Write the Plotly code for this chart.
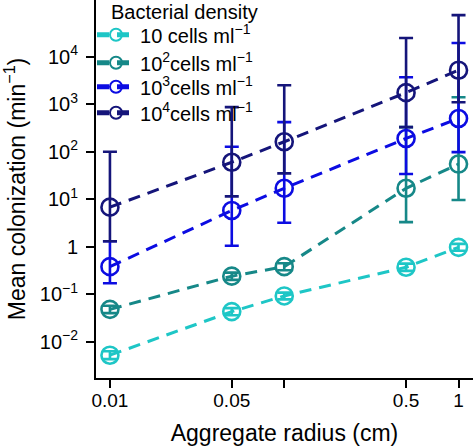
import plotly.graph_objects as go

# Data
radius = [0.01, 0.05, 0.1, 0.5, 1]

names = ["10 cells ml<sup>−1</sup>",
         "10<sup>2</sup>cells ml<sup>−1</sup>",
         "10<sup>3</sup>cells ml<sup>−1</sup>",
         "10<sup>4</sup>cells ml<sup>−1</sup>"]
legend_title = "Bacterial density"

d1_mean = [0.0052, 0.043, 0.092, 0.37, 0.97]
d1_hi = [0.0063, 0.051, 0.108, 0.44, 1.15]
d1_lo = [0.0043, 0.036, 0.078, 0.31, 0.82]

d2_mean = [0.048, 0.24, 0.38, 17, 55]
d2_hi = [0.057, 0.285, 0.45, 330, 1400]
d2_lo = [0.040, 0.20, 0.32, 3.3, 9.6]

d3_mean = [0.38, 5.8, 17, 190, 500]
d3_hi = [1.3, 127, 420, 3700, 19500]
d3_lo = [0.17, 1.05, 3.2, 34, 98]

d4_mean = [6.8, 60, 162, 1750, 5200]
d4_hi = [100, 870, 2500, 24700, 75000]
d4_lo = [1.3, 11.5, 35, 330, 1100]

colors = ["#1EC6C6", "#168888", "#0C0CE2", "#15157A"]

x_tickvals = [0.01, 0.05, 0.1, 0.5, 1]
x_ticktext = ["0.01", "0.05", "", "0.5", "1"]
y_tickvals = [0.01, 0.1, 1, 10, 100, 1000, 10000]
y_ticktext = ["10<sup>−2</sup>", "10<sup>−1</sup>", "1", "10<sup>1</sup>",
              "10<sup>2</sup>", "10<sup>3</sup>", "10<sup>4</sup>"]

FONT = "Liberation Sans, Arial, Helvetica, sans-serif"
LEG_X = -0.0106

fig = go.Figure()
series = [(d1_mean, d1_hi, d1_lo), (d2_mean, d2_hi, d2_lo),
          (d3_mean, d3_hi, d3_lo), (d4_mean, d4_hi, d4_lo)]
legend_ids = ["legend", "legend2", "legend3", "legend4"]
for (m, hi, lo), name, c, lg in zip(series, names, colors, legend_ids):
    fig.add_trace(go.Scatter(
        x=radius, y=m, name=name, mode="lines+markers", legend=lg,
        line=dict(color=c, width=3, dash="12px,8px"),
        marker=dict(symbol="circle-open", size=17, color=c,
                    line=dict(width=2.6, color=c)),
        error_y=dict(type="data", symmetric=False,
                     array=[h - v for h, v in zip(hi, m)],
                     arrayminus=[v - l for v, l in zip(m, lo)],
                     color=c, thickness=2.6, width=7),
    ))

common_leg = dict(x=LEG_X, xanchor="left", yanchor="top",
                  bgcolor="rgba(0,0,0,0)",
                  borderwidth=0, font=dict(size=20, family=FONT),
                  itemsizing="constant", itemwidth=38)

fig.update_layout(
    width=473, height=446,
    margin=dict(l=96, r=0, t=0, b=68),
    paper_bgcolor="white", plot_bgcolor="white",
    font=dict(family=FONT, size=20, color="black"),
    showlegend=True,
    legend=dict(y=0.9595, **common_leg),
    legend2=dict(y=0.8854, **common_leg),
    legend3=dict(y=0.8219, **common_leg),
    legend4=dict(y=0.7532, **common_leg),
    annotations=[dict(
        text=legend_title, xref="paper", yref="paper",
        x=0.035, y=0.969, xanchor="left", yanchor="middle",
        showarrow=False, font=dict(size=20, family=FONT, color="black"),
    )],
    xaxis=dict(
        type="log", range=[-2.08, 0.083],
        tickvals=x_tickvals, ticktext=x_ticktext,
        ticks="outside", ticklen=8, tickwidth=2, tickcolor="black",
        ticklabelstandoff=-4,
        showline=True, linewidth=2, linecolor="black",
        showgrid=False, zeroline=False,
        tickfont=dict(size=19, family=FONT),
        title=dict(text="Aggregate radius (cm)", font=dict(size=23, family=FONT)),
    ),
    yaxis=dict(
        type="log", range=[-2.764, 5.194],
        tickvals=y_tickvals, ticktext=y_ticktext,
        ticks="outside", ticklen=8, tickwidth=2, tickcolor="black",
        ticklabelstandoff=4,
        showline=True, linewidth=2, linecolor="black",
        showgrid=False, zeroline=False,
        tickfont=dict(size=20, family=FONT),
        title=dict(text="Mean colonization (min<sup>−1</sup>)",
                   font=dict(size=23, family=FONT)),
    ),
)

fig.write_html("out.html", config={"displayModeBar": False},
               post_script="document.body.style.margin='0px';")
